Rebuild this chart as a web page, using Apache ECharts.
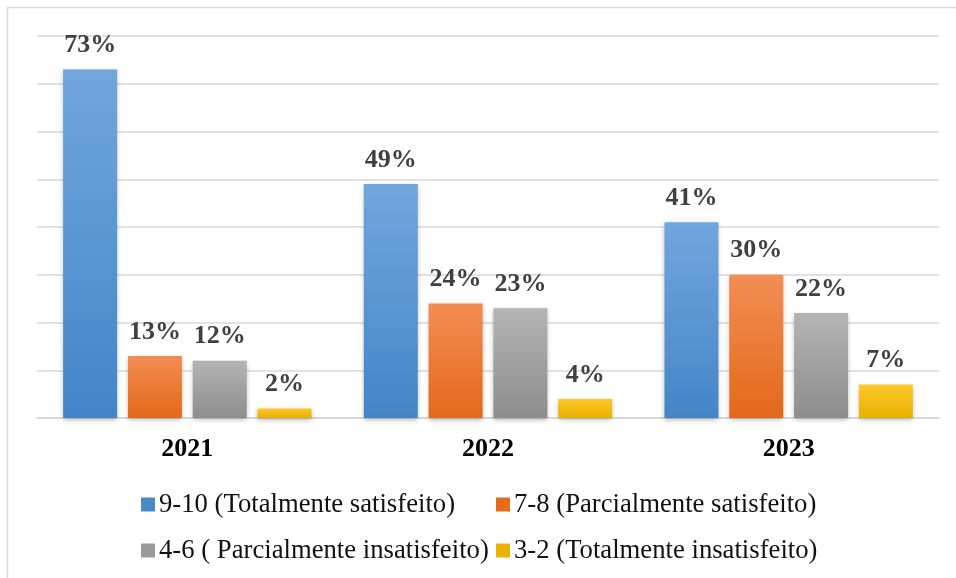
<!DOCTYPE html>
<html>
<head>
<meta charset="utf-8">
<script src="https://cdn.jsdelivr.net/npm/echarts@6/dist/echarts.min.js"></script>
<style>
  html, body { margin: 0; padding: 0; background: #ffffff; }
  #chart { width: 956px; height: 578px; }
</style>
</head>
<body>
<div id="chart"></div>
<script>
// Satisfaction survey results by year (percent of respondents)
const years = ['2021', '2022', '2023'];
const seriesNames = [
  '9-10 (Totalmente satisfeito)',
  '7-8 (Parcialmente satisfeito)',
  '4-6 ( Parcialmente insatisfeito)',
  '3-2 (Totalmente insatisfeito)'
];
const totalSatisfied = [73, 49, 41];
const partlySatisfied = [13, 24, 30];
const partlyUnsatisfied = [12, 23, 22];
const totalUnsatisfied = [2, 4, 7];

const valuesBySeries = [totalSatisfied, partlySatisfied, partlyUnsatisfied, totalUnsatisfied];

// gradient stops (top, bottom) and flat legend swatch colour per series
const palette = [
  { top: '#71a6de', bottom: '#4385c8', flat: '#4a88cc' },
  { top: '#f38d54', bottom: '#e2691a', flat: '#e46c1c' },
  { top: '#b4b4b4', bottom: '#8d8d8d', flat: '#9a9a9a' },
  { top: '#ffc72a', bottom: '#e8b000', flat: '#e8b400' }
];

const serif = '"Liberation Serif", "Times New Roman", serif';

const chart = echarts.init(document.getElementById('chart'), null, { renderer: 'canvas' });

const series = seriesNames.map((name, i) => ({
  name: name,
  type: 'bar',
  data: valuesBySeries[i],
  barWidth: 54,
  barGap: '20%',
  itemStyle: {
    color: new echarts.graphic.LinearGradient(0, 0, 0, 1, [
      { offset: 0, color: palette[i].top },
      { offset: 1, color: palette[i].bottom }
    ]),
    shadowBlur: 5,
    shadowColor: 'rgba(0,0,0,0.28)',
    shadowOffsetY: 2
  },
  label: {
    show: true,
    position: 'top',
    distance: 11,
    formatter: '{c}%',
    color: '#404040',
    fontFamily: serif,
    fontWeight: 'bold',
    fontSize: 26
  }
}));

// one legend block per entry so each swatch sits at its own spot
const legendSpots = [
  { left: 141, top: 491 },
  { left: 496, top: 491 },
  { left: 141, top: 537 },
  { left: 496, top: 537 }
];
const legends = seriesNames.map((name, i) => ({
  left: legendSpots[i].left,
  top: legendSpots[i].top,
  orient: 'horizontal',
  icon: 'rect',
  itemWidth: 14,
  itemHeight: 14,
  padding: 0,
  selectedMode: false,
  data: [{ name: name, itemStyle: { color: palette[i].flat } }],
  textStyle: {
    fontFamily: serif,
    fontSize: 26.7,
    lineHeight: 26,
    color: '#111111',
    padding: [0, 0, 0, -1]
  }
}));

chart.setOption({
  animation: false,
  backgroundColor: '#ffffff',
  grid: { left: 37, right: 17, top: 36, bottom: 160 },
  xAxis: {
    type: 'category',
    data: years,
    axisLine: { show: true, lineStyle: { color: '#d6d6d6', width: 1.5 } },
    axisTick: { show: false },
    axisLabel: {
      margin: 18,
      color: '#000000',
      fontFamily: serif,
      fontWeight: 'bold',
      fontSize: 26
    }
  },
  yAxis: {
    type: 'value',
    min: 0,
    max: 80,
    interval: 10,
    axisLabel: { show: false },
    axisLine: { show: false },
    axisTick: { show: false },
    splitLine: { show: true, lineStyle: { color: '#d9d9d9', width: 1.5 } }
  },
  legend: legends,
  series: series,
  graphic: [
    {
      type: 'polyline',
      shape: { points: [[7.5, 578], [7.5, 7.5], [956, 7.5]] },
      style: { stroke: '#d9d9d9', lineWidth: 1.5, fill: null },
      silent: true
    }
  ]
});
</script>
</body>
</html>
